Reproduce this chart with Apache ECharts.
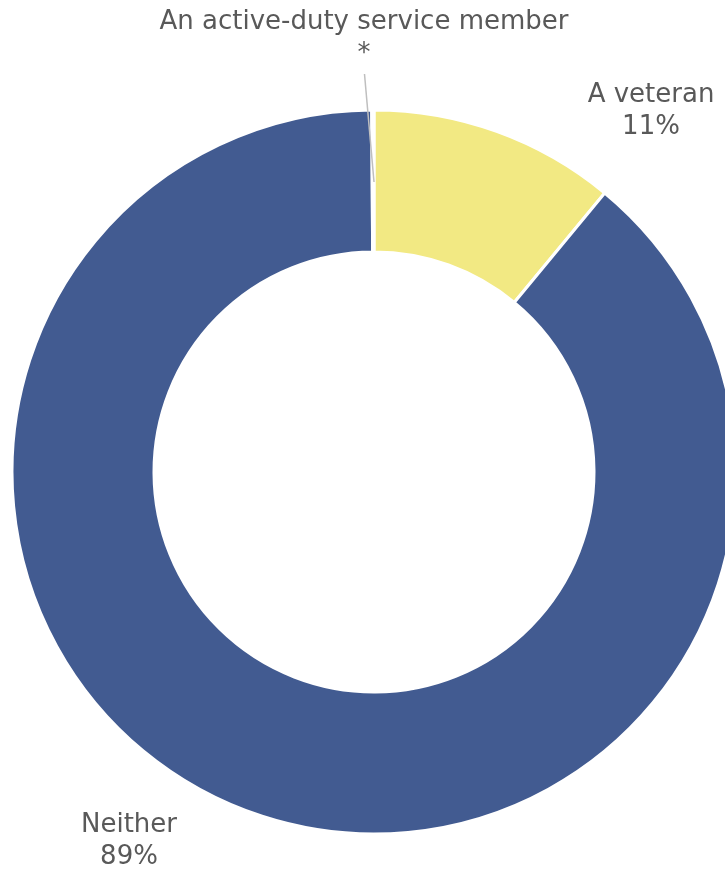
<!DOCTYPE html>
<html>
<head>
<meta charset="utf-8">
<script src="https://cdn.jsdelivr.net/npm/echarts@6/dist/echarts.min.js"></script>
<style>html,body{margin:0;padding:0;background:#fff}#c{width:725px;height:870px}</style>
</head>
<body>
<div id="c"></div>
<script>
const categories = ['A veteran', 'Neither', 'An active-duty service member'];
const values = [11, 88.9, 0.1];
const valueLabels = ['11%', '89%', '*'];
const colors = ['#F2E983', '#425B91', '#FFFFFF'];

const labelPos = { 0: [651, 111], 1: [129, 841], 2: [364, 38] };
const textStyle = { color: '#595959', fontSize: 26, fontFamily: 'DejaVu Sans', lineHeight: 32, align: 'center' };

const chart = echarts.init(document.getElementById('c'));
chart.setOption({
  animation: false,
  series: [
    {
      type: 'pie',
      center: [374, 472],
      radius: [220, 362],
      startAngle: 90,
      clockwise: true,
      avoidLabelOverlap: false,
      silent: true,
      emphasis: { disabled: true },
      itemStyle: { borderColor: '#ffffff', borderWidth: 3 },
      label: Object.assign({ show: true, position: 'outside', formatter: p => p.name + '\n' + valueLabels[p.dataIndex] }, textStyle),
      labelLine: { show: false },
      labelLayout: p => {
        const pos = labelPos[p.dataIndex];
        return { x: pos[0], y: pos[1], align: 'center', verticalAlign: 'middle' };
      },
      data: categories.map((c, i) => ({
        name: c, value: values[i],
        itemStyle: { color: colors[i] },
        label: { show: i !== 2 }
      }))
    },
    {
      type: 'pie',
      center: [374, 472],
      radius: [0, 290],
      startAngle: 90,
      clockwise: true,
      avoidLabelOverlap: false,
      silent: true,
      z: 5,
      emphasis: { disabled: true },
      itemStyle: { color: 'rgba(0,0,0,0)', borderWidth: 0 },
      label: Object.assign({ show: false, position: 'outside', formatter: p => p.name + '\n' + valueLabels[p.dataIndex] }, textStyle),
      labelLine: { show: false, lineStyle: { color: '#BFBFBF', width: 1.5 } },
      labelLayout: p => {
        const pos = labelPos[p.dataIndex];
        const r = p.rect;
        return {
          x: pos[0], y: pos[1], align: 'center', verticalAlign: 'middle',
          labelLinePoints: [[r.x + r.width, r.y], [pos[0] + 0.5, pos[1] + 36]]
        };
      },
      data: categories.map((c, i) => ({
        name: c, value: values[i],
        label: { show: i === 2 },
        labelLine: { show: i === 2 }
      }))
    }
  ]
});
</script>
</body>
</html>
